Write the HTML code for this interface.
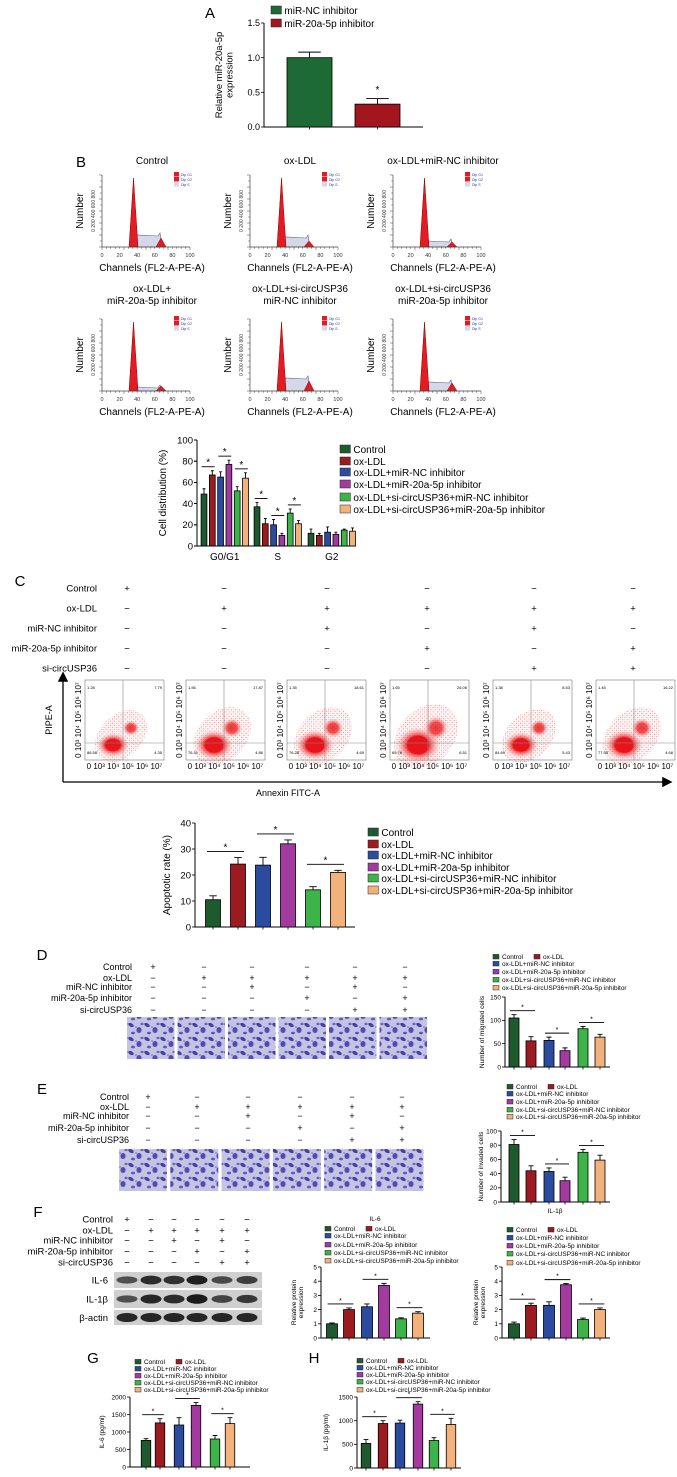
<!DOCTYPE html>
<html><head><meta charset="utf-8">
<style>
html,body{margin:0;padding:0;background:#fff;}
svg{display:block;font-family:"Liberation Sans",Arial,sans-serif;}
</style></head>
<body>
<svg id="fig" width="677" height="1477" viewBox="0 0 677 1477" xmlns="http://www.w3.org/2000/svg">
<defs>
<pattern id="cells" width="16" height="14" patternUnits="userSpaceOnUse">
<rect width="16" height="14" fill="#c4c3e4"/>
<ellipse cx="3" cy="3" rx="3" ry="1.8" fill="#4540a8" transform="rotate(30 3 3)"/>
<ellipse cx="11" cy="8" rx="2.6" ry="3" fill="#524cb3"/>
<ellipse cx="5" cy="11" rx="2" ry="1.4" fill="#5f59bb"/>
<ellipse cx="14" cy="2" rx="1.6" ry="1.2" fill="#6a64c0"/>
<ellipse cx="8" cy="5" rx="1" ry="0.8" fill="#7f7acb"/>
</pattern>
<pattern id="dots" width="3" height="3" patternUnits="userSpaceOnUse">
<circle cx="1" cy="1" r="0.6" fill="#e8141b"/><circle cx="2.4" cy="2.3" r="0.45" fill="#f04040"/>
</pattern>
<radialGradient id="cloud" cx="50%" cy="50%" r="50%">
<stop offset="0" stop-color="#e8141b"/><stop offset="0.5" stop-color="#ea2020" stop-opacity="0.9"/><stop offset="1" stop-color="#f6a0a0" stop-opacity="0"/>
</radialGradient>
<marker id="arr" markerWidth="8" markerHeight="8" refX="6" refY="4" orient="auto"><path d="M0,0 L8,4 L0,8 z" fill="#000"/></marker>
</defs>
</svg>
<script>
// ---------- DATA ----------
const groupNames = ["Control","ox-LDL","ox-LDL+miR-NC inhibitor","ox-LDL+miR-20a-5p inhibitor","ox-LDL+si-circUSP36+miR-NC inhibitor","ox-LDL+si-circUSP36+miR-20a-5p inhibitor"];
const aCategories = ["miR-NC inhibitor","miR-20a-5p inhibitor"];
const aValues = [1.0, 0.33];
const aErrors = [0.08, 0.08];
const aTicks = [0, 0.5, 1.0, 1.5];
const cdPhases = ["G0/G1","S","G2"];
const cdG0G1 = [49, 67, 65, 77, 52, 64];
const cdS = [37, 21, 20, 10, 31, 21];
const cdG2 = [12, 10, 13, 11, 15, 14];
const cdErrG0G1 = [5, 4, 5, 4, 4, 5];
const cdErrS = [4, 5, 5, 2, 4, 3];
const cdErrG2 = [4, 2, 5, 2, 1, 3];
const cdTicks = [0, 20, 40, 60, 80, 100];
const apoValues = [10.5, 24.2, 23.8, 32.0, 14.3, 21.0];
const apoErrors = [1.5, 2.5, 3.0, 1.5, 1.2, 0.8];
const apoTicks = [0, 10, 20, 30, 40];
const migValues = [105, 56, 57, 35, 82, 64];
const migErrors = [7, 9, 7, 6, 5, 6];
const migTicks = [0, 50, 100, 150];
const invValues = [81, 44, 43, 30, 70, 59];
const invErrors = [7, 7, 5, 5, 4, 7];
const invTicks = [0, 20, 40, 60, 80, 100];
const il6ProtValues = [1.0, 2.0, 2.2, 3.7, 1.35, 1.75];
const il6ProtErrors = [0.06, 0.12, 0.2, 0.15, 0.07, 0.1];
const il1bProtValues = [1.0, 2.3, 2.3, 3.75, 1.3, 2.0];
const il1bProtErrors = [0.12, 0.15, 0.25, 0.08, 0.1, 0.12];
const protTicks = [0, 1, 2, 3, 4, 5];
const il6Values = [760, 1260, 1200, 1760, 800, 1240];
const il6Errors = [50, 120, 210, 80, 100, 170];
const il6Ticks = [0, 500, 1000, 1500, 2000];
const il1bValues = [520, 940, 950, 1350, 580, 920];
const il1bErrors = [80, 60, 60, 50, 60, 130];
const il1bTicks = [0, 500, 1000, 1500];
const apoQuadUL = ["1.28","1.56","1.35","1.65","1.38","1.45"];
const apoQuadUR = ["7.79","17.87","18.61","26.06","8.53","16.22"];
const apoQuadLL = ["86.58","76.31","76.28","65.76","84.69","77.95"];
const apoQuadLR = ["4.35","4.86","4.69","6.51","5.43","4.68"];
const condRows = ["Control","ox-LDL","miR-NC inhibitor","miR-20a-5p inhibitor","si-circUSP36"];
const condSigns = [["+","−","−","−","−","−"],["−","+","+","+","+","+"],["−","−","+","−","+","−"],["−","−","−","+","−","+"],["−","−","−","−","+","+"]];
const blotRows = ["IL-6","IL-1β","β-actin"];
const blotIntensity = [[0.55,0.85,0.8,0.95,0.6,0.7],[0.55,0.9,0.85,1.0,0.65,0.75],[0.9,0.9,0.9,0.9,0.9,0.9]];
const colors6 = ["#1f5a2e","#9b1b20","#2b4c9e","#a23aa0","#3cb44a","#f3b27c"];
const cdColors = ["#1f5a2e","#9b1b20","#2b4c9e","#a23aa0","#3cb44a","#f3b27c"];

// ---------- HELPERS ----------
const svg = document.getElementById('fig');
const NS = "http://www.w3.org/2000/svg";
function mk(tag, attrs, parent){
  const e = document.createElementNS(NS, tag);
  for (const k in attrs) e.setAttribute(k, attrs[k]);
  (parent || svg).appendChild(e);
  return e;
}
function txt(x, y, s, fs, opts, parent){
  opts = opts || {};
  const t = mk('text', {x:x, y:y, 'font-size':fs, fill:opts.fill||'#000', 'text-anchor':opts.anchor||'start'}, parent);
  if (opts.weight) t.setAttribute('font-weight', opts.weight);
  if (opts.rot) t.setAttribute('transform', 'rotate(-90 '+x+' '+y+')');
  t.textContent = s;
  return t;
}
function group(name){
  const g = mk('g', {});
  
  
  return g;
}

function barChart(c){
  const g = group(c.name);
  const vmax = c.ticks[c.ticks.length-1];
  const ys = v => c.yBot - v / vmax * (c.yBot - c.yTop);
  const axis = mk('path', {d:'M'+c.ax+','+c.yTop+' V'+c.yBot+' H'+c.xEnd, stroke:'#000', 'stroke-width':c.lw||1, fill:'none'}, g);
  
  
  c.ticks.forEach(t => {
    mk('line', {x1:c.ax-3, x2:c.ax, y1:ys(t), y2:ys(t), stroke:'#000', 'stroke-width':0.8}, g);
    const tl = txt(c.ax-4, ys(t)+c.tfs*0.35, c.fmt ? c.fmt(t) : String(t), c.tfs, {anchor:'end'}, g);
    
    
  });
  const tops = [];
  c.values.forEach((v, i) => {
    const cx = c.centers[i];
    const r = mk('rect', {x:cx - c.bw/2, y:ys(v), width:c.bw, height:c.yBot - ys(v), fill:c.colors[i], stroke:'#000', 'stroke-width':0.8}, g);
    
    
    const ye = ys(v + c.errs[i]);
    mk('path', {d:'M'+cx+','+ys(v)+' V'+ye+' M'+(cx-c.bw*0.25)+','+ye+' H'+(cx+c.bw*0.25), stroke:'#000', 'stroke-width':0.9, fill:'none'}, g);
    if (c.xticks) mk('line', {x1:cx, x2:cx, y1:c.yBot, y2:c.yBot+2.5, stroke:'#000', 'stroke-width':0.8}, g);
    tops.push(ye);
  });
  (c.pairs || []).forEach(p => {
    const a = p[0], b = p[1];
    const yl = Math.min(tops[a], tops[b]) - c.gap;
    const l = mk('line', {x1:c.centers[a]-c.bw*0.4, x2:c.centers[b]+c.bw*0.4, y1:yl, y2:yl, stroke:'#000', 'stroke-width':0.9}, g);
    
    
    const s = txt((c.centers[a]+c.centers[b])/2, yl - 1, '*', c.sfs, {anchor:'middle'}, g);
    
    
  });
  if (c.title){
    c.title.forEach((ln, k) => {
      const tt = txt(c.titleX + k*c.tfs2*1.1, (c.yTop+c.yBot)/2, ln, c.tfs2, {anchor:'middle', rot:true}, g);
      
      
    });
  }
  return g;
}
function legend(name, x, ys, labels, cols, fs, box){
  const g = group(name);
  labels.forEach((l, i) => {
    const e = group('legend-entry');
    g.appendChild(e);
    const xx = Array.isArray(x) ? x[i] : x;
    mk('rect', {x:xx, y:ys[i]-box+1, width:box*1.3, height:box, fill:cols[i], stroke:'#222', 'stroke-width':0.5}, e);
    txt(xx + box*1.3 + 3, ys[i]+1, l, fs, {}, e);
  });
  return g;
}
function smallLegend(name, x, ys, fs){
  const xs = [x, x+41, x, x, x, x];
  const yy = [ys[0], ys[0], ys[1], ys[2], ys[3], ys[4]];
  return legend(name, xs, yy, groupNames, colors6, fs, 4.6);
}
function conditionTable(name, rowYs, labelRight, colXs, fs){
  const g = group(name);
  condRows.forEach((r, i) => {
    const l = txt(labelRight, rowYs[i]+fs*0.35, r, fs, {anchor:'end'}, g);
    
    
    condSigns[i].forEach((s, j) => {
      txt(colXs[j], rowYs[i]+fs*0.35, s, fs, {anchor:'middle'}, g);
    });
  });
  return g;
}
function panelLabel(s, x, y, fs){
  const t = txt(x, y, s, fs || 15, {anchor:'middle'});
  
  
}

// ---------- PANEL A ----------
panelLabel('A', 210, 18);
barChart({name:'mir20a-expression-chart', ax:264, yTop:23, yBot:127, xEnd:423, ticks:aTicks, fmt:t=>t.toFixed(1), tfs:9,
  centers:[309.5, 377.5], bw:45, values:aValues, errs:aErrors, colors:["#1e6a34","#a3161d"], pairs:[], gap:0, sfs:10, xticks:true,
  title:["Relative miR-20a-5p","expression"], titleX:222, tfs2:9.5});
txt(377.5, 93, '*', 10, {anchor:'middle'});
legend('expression-legend', 271, [13, 26], aCategories, ["#1e6a34","#a3161d"], 10, 8);

// ---------- PANEL B HISTOGRAMS ----------
panelLabel('B', 81, 167);
const histTitles = [["Control"],["ox-LDL"],["ox-LDL+miR-NC inhibitor"],["ox-LDL+","miR-20a-5p inhibitor"],["ox-LDL+si-circUSP36","miR-NC inhibitor"],["ox-LDL+si-circUSP36","miR-20a-5p inhibitor"]];
const histAx = [102, 250, 393, 102, 250, 393];
const histBase = [247, 247, 247, 391, 391, 391];
const histSH = [12, 10, 6, 4, 13, 9];
const histG2 = [9, 6, 5, 5, 10, 8];
histTitles.forEach((tl, i) => {
  const g = group('cell-cycle-histogram-'+(i+1));
  const ax = histAx[i], yb = histBase[i], yt = yb - 72, xe = ax + 88;
  const cx = ax + 50;
  tl.forEach((s, k) => txt(cx, (i<3 ? 164 : 292) + k*12, s, 10, {anchor:'middle'}, g));
  mk('path', {d:'M'+(ax+34)+','+yb+' L'+(ax+35)+','+(yb-histSH[i])+' L'+(ax+56)+','+(yb-histSH[i]+1)+' L'+(ax+58)+','+(yb-histSH[i]-2)+' L'+(ax+60)+','+yb+' Z', fill:'#d7d7ea', stroke:'#5a5aa0', 'stroke-width':0.6}, g);
  mk('path', {d:'M'+(ax+27)+','+yb+' L'+(ax+31.5)+','+(yt+3)+' L'+(ax+36)+','+yb+' Z', fill:'#e31b23', stroke:'#8b0000', 'stroke-width':0.5}, g);
  mk('path', {d:'M'+(ax+54)+','+yb+' L'+(ax+59)+','+(yb-histG2[i])+' L'+(ax+64)+','+yb+' Z', fill:'#e31b23', stroke:'#8b0000', 'stroke-width':0.5}, g);
  mk('path', {d:'M'+ax+','+yt+' V'+yb+' H'+xe, stroke:'#444', 'stroke-width':0.7, fill:'none'}, g);
  for (let k=0;k<=20;k++) mk('line', {x1:ax+k*4.4, x2:ax+k*4.4, y1:yb, y2:yb+(k%5==0?3:1.8), stroke:'#444','stroke-width':0.5}, g);
  for (let k=0;k<=12;k++) mk('line', {x1:ax-(k%2==0?3:1.8), x2:ax, y1:yb-k*6, y2:yb-k*6, stroke:'#444','stroke-width':0.5}, g);
  ['0','20','40','60','80','100'].forEach((s,k)=>txt(ax+k*17.6, yb+10, s, 5.5, {anchor:'middle', fill:'#333'}, g));
  txt(ax-7, yb-36, '0   200  400  600  800', 5, {anchor:'middle', rot:true, fill:'#333'}, g);
  txt(ax-19, yb-36, 'Number', 10, {anchor:'middle', rot:true}, g);
  txt(ax+50, yb+24, 'Channels (FL2-A-PE-A)', 10, {anchor:'middle'}, g);
  [['Dip G1','#e31b23'],['Dip G2','#e31b23'],['Dip S','#d7d7ea']].forEach((d,k)=>{
    mk('rect', {x:ax+72, y:yt-3+k*5, width:5, height:4.5, fill:d[1]}, g);
    txt(ax+79, yt+1+k*5, d[0], 3.5, {fill:'#33a'}, g);
  });
});

// ---------- CELL DISTRIBUTION ----------
const cdGroupStart = [204, 257, 311];
const cdStep = 8.3;
const cdSets = [cdG0G1, cdS, cdG2];
const cdErrs = [cdErrG0G1, cdErrS, cdErrG2];
const cdG = group('cell-distribution-chart');
cdSets.forEach((vals, gi) => {
  const centers = vals.map((v, i) => cdGroupStart[gi] + i*cdStep);
  const sub = barChart({name:'cell-distribution-'+cdPhases[gi].replace('/','-').toLowerCase(), ax:197, yTop:440, yBot:546, xEnd:356,
    ticks:cdTicks, tfs:gi==0?9.5:0.01, centers:centers, bw:5.8, values:vals, errs:cdErrs[gi], colors:cdColors,
    pairs: gi<2 ? [[0,1],[2,3],[4,5]] : [], gap:4, sfs:10, xticks:false});
  cdG.appendChild(sub);
  const pl = txt(centers[2]+cdStep*0.5, 560, cdPhases[gi], 10, {anchor:'middle'}, cdG);
  
  
});
txt(166, 493, 'Cell distribution (%)', 10, {anchor:'middle', rot:true}, cdG);
legend('cell-distribution-legend', 340, [452, 464, 475, 487, 500, 512], groupNames, cdColors, 10, 8);

// ---------- PANEL C ----------
panelLabel('C', 20, 586);
conditionTable('apoptosis-conditions', [588, 608, 628, 648, 668], 97, [127, 224, 327, 427, 534, 633], 9.5);
const scatX = [85, 186, 287, 390, 493, 596];
const cloudSize = [[14,11],[17,14],[17,14],[20,17],[15,12],[17,14]];
scatX.forEach((x, i) => {
  const g = group('flow-scatter-plot-'+(i+1));
  const y = 680, w = 79, h = 80;
  mk('rect', {x:x, y:y, width:w, height:h, fill:'#fff', stroke:'#777', 'stroke-width':0.6}, g);
  const cx = x+36, cy = y+56;
  const s = cloudSize[i];
  mk('ellipse', {cx:cx, cy:cy, rx:s[0]+16, ry:s[1]+10, fill:'url(#dots)', opacity:0.55, transform:'rotate(-45 '+cx+' '+cy+')'}, g);
  mk('ellipse', {cx:x+28, cy:y+65, rx:s[0]+2, ry:s[1]+1, fill:'url(#cloud)'}, g);
  mk('ellipse', {cx:x+28, cy:y+65, rx:s[0]*0.55, ry:s[1]*0.55, fill:'#e8141b'}, g);
  mk('ellipse', {cx:x+46, cy:y+48, rx:s[0]*0.6, ry:s[1]*0.7, fill:'url(#cloud)', opacity:0.85}, g);
  mk('line', {x1:x+38, x2:x+38, y1:y, y2:y+h, stroke:'#888', 'stroke-width':0.6}, g);
  mk('line', {x1:x, x2:x+w, y1:y+63, y2:y+63, stroke:'#888', 'stroke-width':0.6}, g);
  txt(x+2, y+9, apoQuadUL[i], 4, {}, g);
  txt(x+w-2, y+9, apoQuadUR[i], 4, {anchor:'end'}, g);
  txt(x+2, y+h-6, apoQuadLL[i], 4, {}, g);
  txt(x+w-2, y+h-6, apoQuadLR[i], 4, {anchor:'end'}, g);
  txt(x+w/2, y+h+9, '0 10³ 10⁴ 10⁵ 10⁶ 10⁷', 8, {anchor:'middle'}, g);
  txt(x-4, y+h/2, '0 10³ 10⁴ 10⁵ 10⁶ 10⁷', 8, {anchor:'middle', rot:true}, g);
});
const axY = mk('line', {x1:63, y1:782, x2:63, y2:674, stroke:'#000', 'stroke-width':1.3, 'marker-end':'url(#arr)'});


const axX = mk('line', {x1:63, y1:782, x2:670, y2:782, stroke:'#000', 'stroke-width':1.3, 'marker-end':'url(#arr)'});


const pit = txt(52, 720, 'PIPE-A', 9, {anchor:'middle', rot:true});


const ant = txt(288, 796, 'Annexin FITC-A', 9, {anchor:'middle'});



// ---------- APOPTOTIC RATE ----------
barChart({name:'apoptotic-rate-chart', ax:195, yTop:823, yBot:927, xEnd:355, ticks:apoTicks, tfs:9.5,
  centers:[213,238,263,288,313,338], bw:15, values:apoValues, errs:apoErrors, colors:colors6, pairs:[[0,1],[2,3],[4,5]],
  gap:6, sfs:10, xticks:true, title:["Apoptotic rate (%)"], titleX:170, tfs2:10});
legend('apoptotic-rate-legend', 368, [835, 847, 858, 870, 881, 893], groupNames, colors6, 10, 8);

// ---------- PANEL D ----------
panelLabel('D', 42, 960);
conditionTable('migration-conditions', [967, 978, 987, 998, 1010], 132, [153, 204, 252, 307, 355, 405], 9);
for (let i=0;i<6;i++){
  const r = mk('rect', {x:127+i*50.5, y:1017, width:47.5, height:42, fill:'url(#cells)'});
  
  
}
smallLegend('migration-legend', 493, [958, 965, 973, 981, 989], 6.5);
barChart({name:'migrated-cells-chart', ax:505, yTop:997, yBot:1067, xEnd:610, ticks:migTicks, tfs:6.5,
  centers:[514,531,549,565,583,600], bw:10, values:migValues, errs:migErrors, colors:colors6, pairs:[[0,1],[2,3],[4,5]],
  gap:4, sfs:7, xticks:true, title:["Number of migrated cells"], titleX:484, tfs2:6.5});

// ---------- PANEL E ----------
panelLabel('E', 42, 1094);
conditionTable('invasion-conditions', [1097, 1107, 1116, 1128, 1140], 129, [148, 197, 248, 300, 352, 402], 9);
for (let i=0;i<6;i++){
  const r = mk('rect', {x:119+i*51.3, y:1149, width:48, height:42, fill:'url(#cells)'});
  
  
}
smallLegend('invasion-legend', 507, [1088, 1095, 1103, 1111, 1118], 6.5);
barChart({name:'invaded-cells-chart', ax:501, yTop:1131, yBot:1202, xEnd:610, ticks:invTicks, tfs:6.5,
  centers:[514,531,549,565,583,600], bw:10, values:invValues, errs:invErrors, colors:colors6, pairs:[[0,1],[2,3],[4,5]],
  gap:4, sfs:7, xticks:true, title:["Number of invaded cells"], titleX:483, tfs2:6.5});
txt(555, 1213, 'IL-1β', 6.5, {anchor:'middle'});

// ---------- PANEL F ----------
panelLabel('F', 38, 1217);
conditionTable('western-blot-conditions', [1219, 1230, 1240, 1251, 1262], 113, [127, 151, 174, 197, 222, 247], 9.5);
const blot = group('western-blot');
const blotY = [1272, 1290, 1310], blotH = [16, 18, 15];
const laneX = [127,151,174,197,222,247];
blotRows.forEach((r, k) => {
  mk('rect', {x:114, y:blotY[k], width:148, height:blotH[k], fill:'#cfcfcf'}, blot);
  const l = txt(108, blotY[k]+blotH[k]/2+3.5, r, 9.5, {anchor:'end'}, blot);
  
  
  blotIntensity[k].forEach((v, j) => {
    const b = mk('ellipse', {cx:laneX[j], cy:blotY[k]+blotH[k]/2, rx:10.5, ry:2.2+2.6*v, fill:'#111', opacity:0.35+0.6*v}, blot);
    
    
  });
});
txt(375, 1221, 'IL-6', 6.5, {anchor:'middle'});
smallLegend('il6-protein-legend', 325, [1230, 1237, 1246, 1254, 1262], 6.5);
barChart({name:'il6-protein-chart', ax:321, yTop:1267, yBot:1338, xEnd:430, ticks:protTicks, tfs:6.5,
  centers:[332,349,367,384,401,418], bw:11, values:il6ProtValues, errs:il6ProtErrors, colors:colors6, pairs:[[0,1],[2,3],[4,5]],
  gap:4, sfs:7, xticks:true, title:["Relative protein","expression"], titleX:296, tfs2:6.5});
smallLegend('il1b-protein-legend', 507, [1231, 1239, 1247, 1255, 1264], 6.5);
barChart({name:'il1b-protein-chart', ax:502, yTop:1267, yBot:1338, xEnd:610, ticks:protTicks, tfs:6.5,
  centers:[514,531,549,566,583,600], bw:11, values:il1bProtValues, errs:il1bProtErrors, colors:colors6, pairs:[[0,1],[2,3],[4,5]],
  gap:4, sfs:7, xticks:true, title:["Relative protein","expression"], titleX:478, tfs2:6.5});

// ---------- PANEL G / H ----------
panelLabel('G', 93, 1363);
smallLegend('il6-elisa-legend', 135, [1363, 1370, 1377, 1384, 1391], 6.5);
barChart({name:'il6-elisa-chart', ax:130, yTop:1397, yBot:1467, xEnd:250, ticks:il6Ticks, tfs:6.5,
  centers:[146,160,179,196,215,230], bw:9.5, values:il6Values, errs:il6Errors, colors:colors6, pairs:[[0,1],[2,3],[4,5]],
  gap:4, sfs:7, xticks:true, title:["IL-6 (pg/ml)"], titleX:104, tfs2:6.5});
panelLabel('H', 314, 1363);
smallLegend('il1b-elisa-legend', 357, [1362, 1369, 1376, 1383, 1391], 6.5);
barChart({name:'il1b-elisa-chart', ax:357, yTop:1397, yBot:1468, xEnd:461, ticks:il1bTicks, tfs:6.5,
  centers:[366,383,400,418,434,451], bw:9.5, values:il1bValues, errs:il1bErrors, colors:colors6, pairs:[[0,1],[2,3],[4,5]],
  gap:4, sfs:7, xticks:true, title:["IL-1β (pg/ml)"], titleX:328, tfs2:6.5});
</script>
</body></html>
